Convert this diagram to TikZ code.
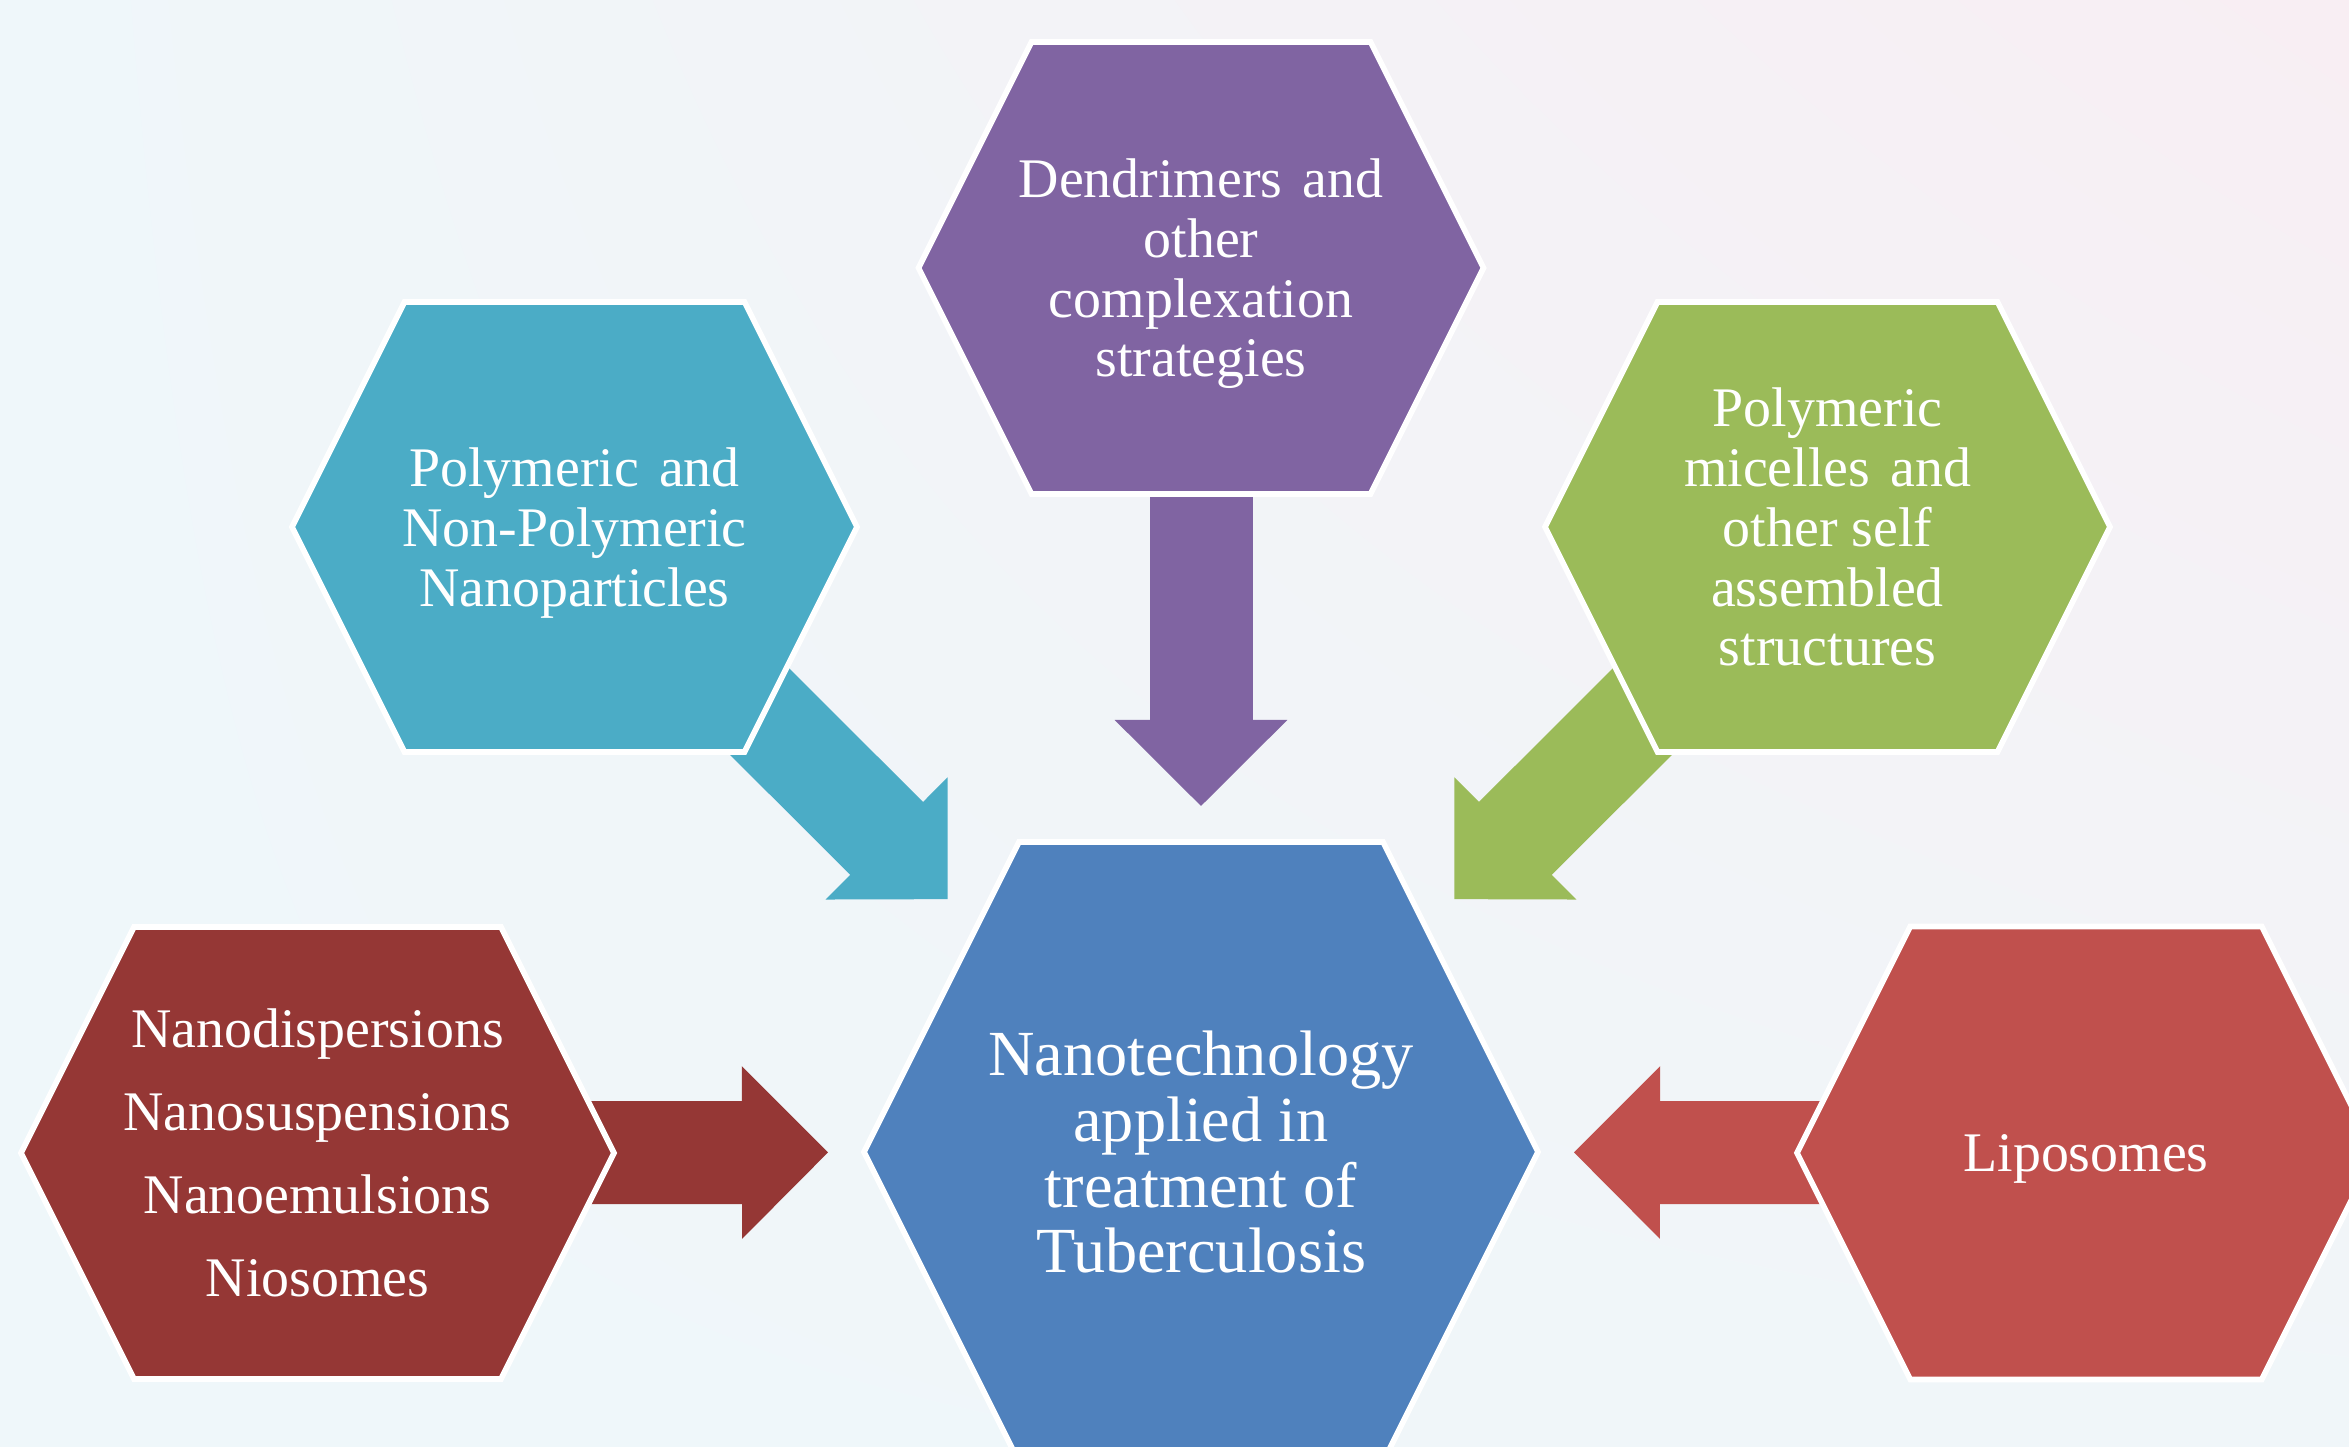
\documentclass[tikz,border=0pt]{standalone}
\usepackage{fontspec}
\setmainfont{Liberation Serif}
\usepackage{xcolor}
\usepackage{tikz}
\usetikzlibrary{positioning,calc,arrows.meta,shadings}
\definecolor{hubblue}{HTML}{4F81BD}
\definecolor{dendpurple}{HTML}{8064A2}
\definecolor{polyteal}{HTML}{4BACC6}
\definecolor{micgreen}{HTML}{9BBB59}
\definecolor{dispred}{HTML}{953735}
\definecolor{lipored}{HTML}{C0504D}
\definecolor{bgcyan}{HTML}{EFF7FA}
\definecolor{bgpink}{HTML}{F8EEF3}
\definecolor{bglow}{HTML}{F0F6F9}
\tikzstyle{hextext} = [text=white, align=center, inner sep=0pt, text depth=0pt, font=\fontsize{15.9}{17}\selectfont]
\tikzstyle{hexline} = [draw=white, line width=1.6pt, line join=miter]
\tikzstyle{blockarrow} = [line width=1.03cm, -{Triangle[width=1.72cm,length=0.86cm,line width=1pt]}]
\pgfdeclarelayer{bg}
\pgfdeclarelayer{arrows}
\pgfdeclarelayer{hexes}
\pgfsetlayers{bg,arrows,hexes,main}
% hexagon round a node: node, half width, half height, colour
\newcommand{\hexcell}[4]{%
	\filldraw[hexline, fill=#4] ($(#1.center)+(-#2,0)$) -- ++({#3/2},#3) -- ++({2*#2-#3},0)
		-- ++({#3/2},-#3) -- ++({-#3/2},-#3) -- ++({#3-2*#2},0) -- cycle;}
\newcommand{\wsp}{\hspace{.36em}}

\begin{document}
\begin{tikzpicture}
				\useasboundingbox (0,0) rectangle (23.49,14.47);
				\begin{pgfonlayer}{bg}
					\shade[upper left=bgcyan, upper right=bgpink, lower left=bgcyan, lower right=bglow] (0,0) rectangle (23.49,14.47);
				\end{pgfonlayer}
				% labels
				\node[hextext, font=\fontsize{18.3}{18.7}\selectfont] (hub) at (12.01,2.95) {Nanotechnology\\applied in\\treatment of\\Tuberculosis};
				\node[hextext] (dend) at (12.01,11.79) {Dendrimers\wsp and\\other\\complexation\\strategies};
				\node[hextext] (poly) at (5.745,9.20) {Polymeric\wsp and\\Non-Polymeric\\Nanoparticles};
				\node[hextext] (mic) at (18.275,9.20) {Polymeric\\micelles\wsp and\\other self\\assembled\\structures};
				\node[hextext, font=\fontsize{15.9}{23.6}\selectfont] (disp) at (3.175,2.94) {Nanodispersions\\Nanosuspensions\\Nanoemulsions\\Niosomes};
				\node[hextext] (lipo) at (20.86,2.94) {Liposomes};
				% hexagons under the labels
				\begin{pgfonlayer}{hexes}
					\foreach \n/\hw/\hh/\c in {hub/3.37/3.10/hubblue, dend/2.825/2.26/dendpurple, poly/2.825/2.25/polyteal,
						mic/2.825/2.25/micgreen, disp/2.965/2.26/dispred, lipo/2.89/2.265/lipored}{
						\hexcell{\n}{\hw}{\hh}{\c}
					}
				\end{pgfonlayer}
				% block arrows into the hub
				\begin{pgfonlayer}{arrows}
					\foreach \n/\c/\s/\e in {dend/dendpurple/1.5/3.46, poly/polyteal/2.2/3.58, mic/micgreen/2.2/3.58,
						disp/dispred/2.0/3.73, lipo/lipored/2.0/3.73}{
						\draw[blockarrow, \c, shorten <=\s cm, shorten >=\e cm] (\n.center) -- (hub.center);
					}
				\end{pgfonlayer}
\end{tikzpicture}
\end{document}
